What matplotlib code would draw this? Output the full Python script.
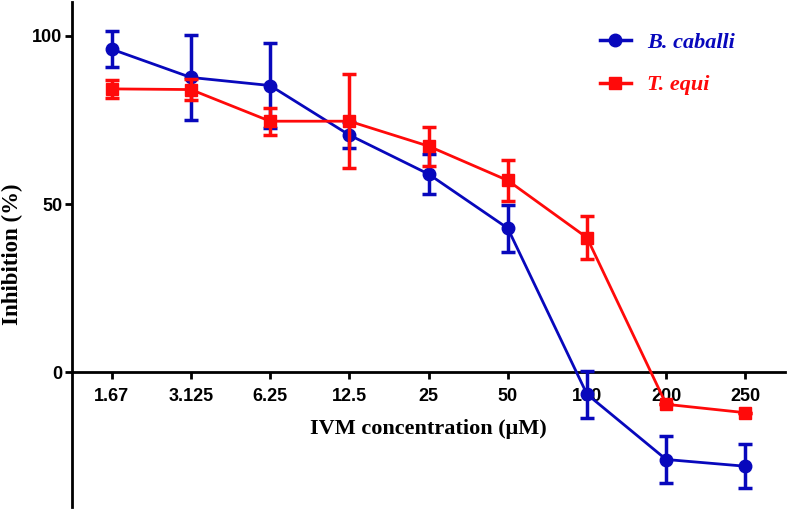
import matplotlib
matplotlib.use("Agg")
import matplotlib.pyplot as plt
import numpy as np

categories = ["1.67", "3.125", "6.25", "12.5", "25", "50", "100", "200", "250"]
b_caballi = [96.0, 87.6, 85.2, 70.5, 58.9, 42.8, -6.5, -25.9, -27.9]
b_caballi_err = [5.3, 12.7, 12.5, 4.0, 5.9, 7.0, 7.0, 7.0, 6.6]
t_equi = [84.2, 84.0, 74.6, 74.6, 67.2, 57.0, 40.0, -9.5, -12.0]
t_equi_err = [2.7, 3.0, 4.0, 14.0, 5.8, 6.0, 6.3, 0.0, 0.0]

blue = "#0808bc"
red = "#ff0a0a"

fig = plt.figure(figsize=(7.87, 5.09), dpi=100)
ax = fig.add_axes([0.0915, 0.004, 0.906, 0.992])

x = np.arange(len(categories))

ax.errorbar(x, b_caballi, yerr=b_caballi_err, color=blue, lw=2.0, elinewidth=2.5,
            capsize=5, capthick=2.5, marker="o", markersize=9, zorder=3, clip_on=False)
ax.errorbar(x, t_equi, yerr=t_equi_err, color=red, lw=2.0, elinewidth=2.5,
            capsize=5, capthick=2.5, marker="s", markersize=9, zorder=4, clip_on=False)

# legend proxies
lb, = ax.plot([], [], color=blue, lw=2.5, marker="o", markersize=9, label="B. caballi")
lr, = ax.plot([], [], color=red, lw=2.5, marker="s", markersize=9, label="T. equi")

ax.set_xlim(-0.5, 8.5)
ax.set_ylim(-40, 110)
ax.set_xticks(x)
ax.set_xticklabels(categories)
ax.set_yticks([0, 50, 100])

for s in ["top", "right"]:
    ax.spines[s].set_visible(False)
ax.spines["bottom"].set_position(("data", 0))
ax.spines["left"].set_linewidth(2)
ax.spines["bottom"].set_linewidth(2)
ax.tick_params(axis="both", width=2, length=5, labelsize=13, direction="out")
for lab in ax.get_xticklabels() + ax.get_yticklabels():
    lab.set_fontfamily("Liberation Sans")
    lab.set_fontweight("bold")
ax.tick_params(axis="x", pad=6)
ax.tick_params(axis="y", pad=2)

ax.text(0.5, 0.155, "IVM concentration (\u03bcM)", transform=ax.transAxes, ha="center",
        va="center", fontsize=16, fontweight="bold", family="Liberation Serif")
fig.text(0.016, 0.5, "Inhibition (%)", rotation=90, ha="center", va="center",
         fontsize=16.5, fontweight="bold", family="Liberation Serif")

leg = ax.legend(handles=[lb, lr], loc="upper left", bbox_to_anchor=(0.712, 0.98),
                frameon=False, handlelength=1.4, handletextpad=0.75, labelspacing=1.0,
                prop={"family": "Liberation Serif", "style": "italic", "weight": "bold", "size": 16})
for t, c in zip(leg.get_texts(), [blue, red]):
    t.set_color(c)

fig.savefig("out.png", dpi=100)
